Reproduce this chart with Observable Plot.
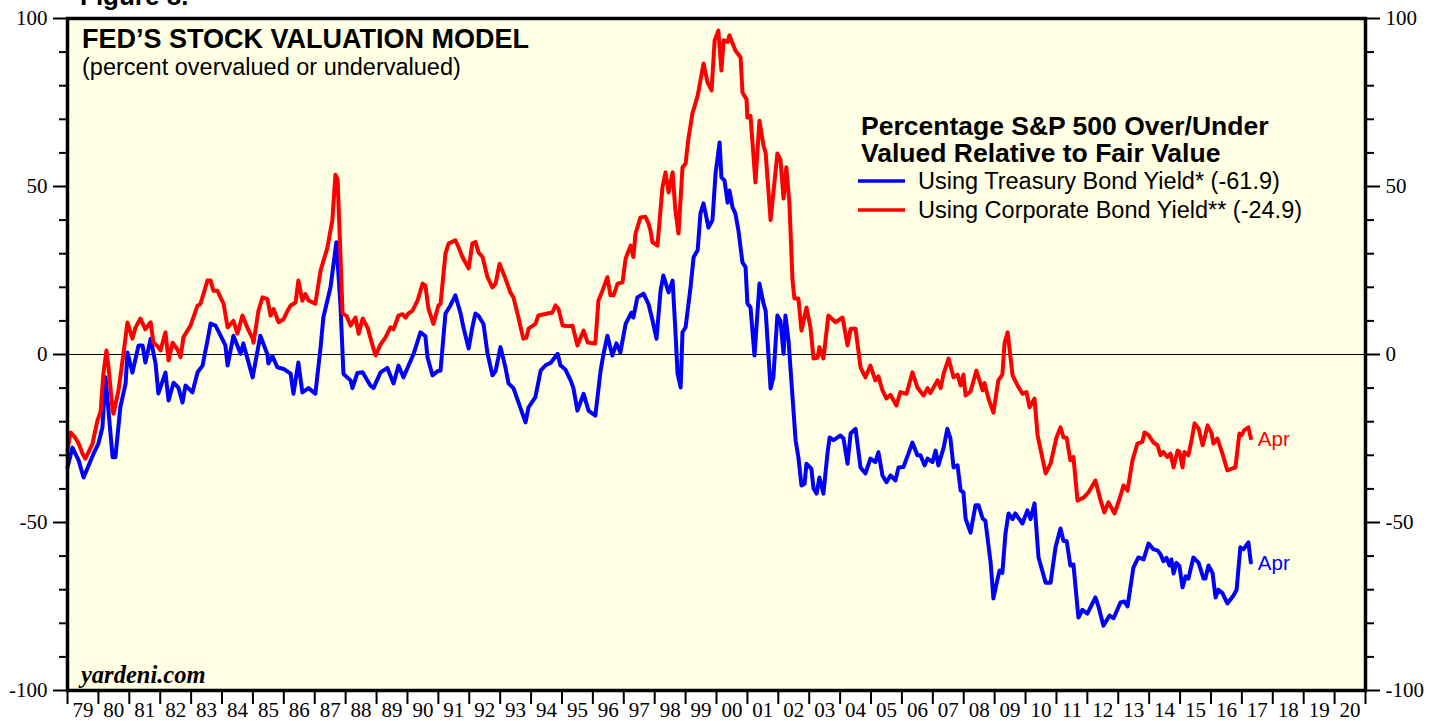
<!DOCTYPE html>
<html>
<head>
<meta charset="utf-8">
<script src="https://cdn.jsdelivr.net/npm/d3@7"></script>
<script src="https://cdn.jsdelivr.net/npm/@observablehq/plot@0.6"></script>
<style>
  html, body { margin: 0; padding: 0; background: #ffffff; }
  #wrap { position: relative; width: 1439px; height: 721px; overflow: hidden; }
  #overlay { position: absolute; left: 0; top: 0; pointer-events: none; }
</style>
</head>
<body>
<div id="wrap"></div>
<script>
// ---------- DATA (decimal year, percent over/under valued) ----------
const treasury = [
[1979.00,-33.6],[1979.16,-27.7],[1979.36,-31.5],[1979.52,-36.6],[1979.84,-29.6],[1980.00,-26.5],[1980.13,-21.7],[1980.23,-6.8],
[1980.46,-30.6],[1980.55,-30.6],[1980.71,-15.7],[1980.88,-8.6],[1980.94,0.6],[1981.10,-5.4],[1981.30,2.7],[1981.43,2.7],
[1981.52,-2.4],[1981.69,4.7],[1981.85,-2.7],[1981.94,-11.6],[1982.17,-5.4],[1982.27,-13.7],[1982.43,-8.4],[1982.59,-9.9],
[1982.72,-14.3],[1982.82,-9.2],[1983.04,-11.3],[1983.21,-5.3],[1983.37,-3.3],[1983.53,4.2],[1983.63,9.2],[1983.79,8.6],
[1983.95,5.7],[1984.11,2.7],[1984.18,-3.3],[1984.37,5.6],[1984.60,0.2],[1984.69,3.3],[1984.99,-6.8],[1985.24,5.6],
[1985.47,0],[1985.50,-2.7],[1985.63,-0.5],[1985.79,-3.8],[1985.99,-4.3],[1986.22,-5.7],[1986.31,-11.7],[1986.47,-2.4],
[1986.60,-11.3],[1986.80,-10],[1987.02,-11.7],[1987.19,2.2],[1987.28,11.1],[1987.51,20],[1987.70,33.4],[1987.83,15],
[1987.93,-5.8],[1988.16,-7.7],[1988.22,-10],[1988.38,-5.5],[1988.55,-5.3],[1988.80,-9.2],[1988.90,-10],[1989.13,-5.3],
[1989.35,-4],[1989.55,-8.6],[1989.71,-3.3],[1989.87,-6.8],[1990.20,0.2],[1990.42,6.6],[1990.58,5.5],[1990.65,-0.9],
[1990.81,-6.2],[1990.97,-5],[1991.07,-4.8],[1991.23,12.2],[1991.39,14.6],[1991.55,17.6],[1991.72,12.2],[1991.81,8.1],
[1991.98,1.8],[1992.10,8.1],[1992.20,12.2],[1992.30,11.5],[1992.46,9.1],[1992.59,0.3],[1992.75,-6.2],[1992.85,-5],
[1993.01,2.2],[1993.17,-3.8],[1993.27,-8.6],[1993.43,-10],[1993.59,-14.2],[1993.82,-20.2],[1993.92,-15.7],[1994.14,-12.7],
[1994.31,-4.8],[1994.47,-3.2],[1994.63,-2.5],[1994.86,0.2],[1994.95,-3.2],[1995.11,-4.5],[1995.28,-7.7],[1995.37,-10],
[1995.50,-16.7],[1995.70,-11.7],[1995.86,-16.7],[1996.08,-18.2],[1996.25,-4.8],[1996.34,0],[1996.47,5.6],[1996.63,-0.3],
[1996.76,3.3],[1996.89,0.6],[1997.06,9.1],[1997.25,12.5],[1997.31,11],[1997.44,17],[1997.64,18.1],[1997.80,15],
[1997.93,10.1],[1998.06,4.7],[1998.19,19],[1998.28,23.5],[1998.45,18.5],[1998.58,22],[1998.67,7.1],[1998.74,-5.7],
[1998.84,-9.8],[1998.90,6.6],[1999.00,8.1],[1999.16,20],[1999.26,29],[1999.39,31],[1999.48,42],[1999.58,45],
[1999.74,37.8],[1999.87,40],[1999.97,53.9],[2000.10,63.1],[2000.16,52.7],[2000.26,51.8],[2000.36,45.2],[2000.42,48.8],
[2000.52,43.8],[2000.61,42],[2000.71,36.9],[2000.84,27.4],[2000.94,26],[2001.00,15.2],[2001.10,14],[2001.23,-0.3],
[2001.39,21.1],[2001.52,15.2],[2001.59,13],[2001.75,-10.1],[2001.84,-6.8],[2001.97,11.6],[2002.07,10],[2002.17,0.2],
[2002.23,11.6],[2002.33,4.2],[2002.46,-12.7],[2002.56,-25.6],[2002.65,-30.6],[2002.75,-39],[2002.85,-38.5],[2002.91,-32.5],
[2003.07,-34],[2003.14,-39.9],[2003.24,-41.4],[2003.33,-36.6],[2003.46,-41.4],[2003.59,-29.5],[2003.66,-24.7],[2003.79,-25.5],
[2004.01,-24.1],[2004.11,-25],[2004.24,-32.5],[2004.34,-23.5],[2004.50,-22.1],[2004.66,-33.6],[2004.82,-35.4],[2004.98,-31],
[2005.14,-32],[2005.24,-29.1],[2005.37,-36],[2005.50,-38],[2005.63,-36],[2005.79,-37.5],[2005.89,-33.6],[2006.05,-33.5],
[2006.21,-29.5],[2006.34,-26.2],[2006.50,-30],[2006.60,-30],[2006.73,-33],[2006.83,-31],[2006.99,-32],[2007.09,-28.6],
[2007.18,-33],[2007.35,-27.7],[2007.47,-22.1],[2007.57,-25],[2007.67,-33.6],[2007.80,-33],[2007.90,-40.5],[2007.99,-41],
[2008.06,-48.8],[2008.22,-53],[2008.38,-44.9],[2008.48,-44.9],[2008.61,-48.8],[2008.70,-49.5],[2008.87,-61.9],[2008.96,-72.6],
[2009.09,-67],[2009.16,-64.3],[2009.25,-65],[2009.35,-53.3],[2009.45,-47.3],[2009.58,-49],[2009.67,-47.3],[2009.90,-50.3],
[2010.06,-46.4],[2010.16,-49],[2010.29,-44.3],[2010.42,-60.4],[2010.65,-67.9],[2010.81,-67.9],[2010.97,-57.4],[2011.13,-51.8],
[2011.23,-55.5],[2011.33,-55.5],[2011.45,-62.8],[2011.55,-62.5],[2011.71,-78.3],[2011.84,-76],[2012.00,-77.1],[2012.26,-72.3],
[2012.36,-75],[2012.52,-80.7],[2012.72,-77.7],[2012.85,-78.5],[2013.07,-73.8],[2013.20,-73.5],[2013.30,-75],[2013.49,-63.4],
[2013.65,-60.4],[2013.82,-61],[2013.98,-56.3],[2014.14,-58],[2014.27,-58.3],[2014.37,-59.5],[2014.46,-61.5],[2014.56,-60.5],
[2014.66,-62.8],[2014.72,-61],[2014.79,-65.2],[2014.88,-62],[2014.98,-63],[2015.08,-69.3],[2015.18,-66],[2015.27,-66.7],
[2015.43,-60.4],[2015.60,-62],[2015.76,-66.7],[2015.82,-66.7],[2015.92,-62.8],[2016.05,-65],[2016.15,-72.3],[2016.24,-70],
[2016.37,-71],[2016.53,-74.1],[2016.73,-71.7],[2016.83,-70],[2016.95,-57.4],[2017.05,-58],[2017.21,-55.9],[2017.29,-61.9]
];

const corporate = [
[1979.00,-28.5],[1979.10,-23.2],[1979.23,-24.5],[1979.36,-26.5],[1979.49,-29.6],[1979.58,-31],[1979.81,-26.5],[1979.97,-19.6],
[1980.07,-17],[1980.16,-5.8],[1980.26,1.2],[1980.33,-4],[1980.46,-16.7],[1980.49,-17.6],[1980.65,-10.7],[1980.81,0.2],
[1980.94,9.5],[1981.10,4.7],[1981.20,8],[1981.36,10.7],[1981.52,7.5],[1981.69,9.6],[1981.78,3.6],[1981.91,2.5],
[1982.01,1.2],[1982.17,6.6],[1982.27,-1.8],[1982.40,3.5],[1982.56,1.5],[1982.66,-0.8],[1982.75,5.1],[1982.98,8.6],
[1983.21,14.6],[1983.30,15],[1983.53,22],[1983.63,22],[1983.72,19],[1983.85,19],[1984.05,15.1],[1984.18,8.1],
[1984.37,10],[1984.50,6.2],[1984.66,11.6],[1984.82,8],[1984.99,4.7],[1985.02,3.5],[1985.18,13.1],[1985.31,17],
[1985.47,16.5],[1985.57,11.6],[1985.67,13.5],[1985.83,9.6],[1985.99,10.5],[1986.12,13],[1986.22,14.6],[1986.38,15.5],
[1986.47,22],[1986.60,16],[1986.70,18],[1986.80,16.1],[1987.02,15.1],[1987.19,25],[1987.41,31.8],[1987.57,40],
[1987.67,53.5],[1987.74,52],[1987.83,30],[1987.90,12.2],[1988.03,11.5],[1988.16,8.6],[1988.32,11],[1988.42,6.2],
[1988.55,10.7],[1988.71,8],[1988.87,2.7],[1988.97,-0.3],[1989.13,3],[1989.29,5.1],[1989.45,8.1],[1989.55,7.5],
[1989.71,11.6],[1989.84,12],[1989.94,11],[1990.03,12.2],[1990.16,13],[1990.33,16.1],[1990.49,21.1],[1990.58,20.5],
[1990.68,13.6],[1990.84,9.1],[1991.00,14.6],[1991.07,15],[1991.23,30],[1991.33,33],[1991.55,34],[1991.65,32],
[1991.78,29],[1991.98,25.6],[1992.10,33],[1992.20,33.5],[1992.30,30.4],[1992.43,29],[1992.59,23],[1992.75,20],
[1992.85,21],[1992.98,27],[1993.17,22.6],[1993.33,18.5],[1993.43,17],[1993.59,11],[1993.75,4.7],[1993.85,5],
[1993.92,7.7],[1994.14,9.1],[1994.24,11.6],[1994.53,12.2],[1994.69,12.5],[1994.79,14.6],[1994.89,13.5],[1995.02,8.6],
[1995.21,8.4],[1995.34,8.6],[1995.50,2.7],[1995.60,5],[1995.70,7.1],[1995.83,3.6],[1996.08,3.3],[1996.18,16.1],
[1996.31,19],[1996.47,23],[1996.57,17.6],[1996.67,17.6],[1996.80,21.1],[1996.96,21.5],[1997.06,28.6],[1997.22,32.4],
[1997.31,29],[1997.38,36],[1997.54,40.8],[1997.70,41],[1997.80,39],[1997.86,37],[1997.93,33.4],[1998.09,32.4],
[1998.25,49.7],[1998.35,54.2],[1998.45,48.2],[1998.58,54.2],[1998.67,42.9],[1998.77,36],[1998.90,55.7],[1999.00,56.8],
[1999.09,64.2],[1999.22,71.7],[1999.39,77],[1999.48,81.5],[1999.58,86.6],[1999.71,81],[1999.84,78.6],[1999.94,93.5],
[2000.06,96.4],[2000.16,84.5],[2000.23,93.5],[2000.36,93],[2000.42,95],[2000.61,90.5],[2000.78,88.4],[2000.84,78],
[2000.97,76],[2001.00,70.5],[2001.10,71],[2001.26,51.2],[2001.39,69.6],[2001.52,62.2],[2001.59,60],[2001.75,40],
[2001.97,59.8],[2002.07,58],[2002.17,46.4],[2002.26,55.7],[2002.36,44.9],[2002.46,22],[2002.52,16.7],[2002.65,16.7],
[2002.75,7.1],[2002.91,14],[2003.04,8.1],[2003.14,-1.2],[2003.27,-1.0],[2003.33,2.2],[2003.46,-1.2],[2003.62,11.6],
[2003.85,9.6],[2004.08,11],[2004.24,2.7],[2004.34,7.7],[2004.50,7.7],[2004.66,-3.8],[2004.82,-6.8],[2004.98,-3.3],
[2005.14,-7.7],[2005.24,-6.5],[2005.37,-10.7],[2005.50,-13.1],[2005.63,-12],[2005.82,-15.2],[2005.95,-11.2],[2006.15,-11.7],
[2006.34,-5.3],[2006.50,-9.8],[2006.70,-12.2],[2006.83,-10],[2006.92,-11.5],[2007.15,-7.7],[2007.25,-10],[2007.35,-5.7],
[2007.51,-1.2],[2007.67,-6.8],[2007.80,-6],[2007.90,-9.2],[2007.99,-6],[2008.06,-12.2],[2008.22,-11],[2008.41,-4.8],
[2008.61,-10.7],[2008.67,-8.5],[2008.80,-13.1],[2008.96,-17.3],[2009.12,-7.7],[2009.25,-6],[2009.32,3.3],[2009.42,6.6],
[2009.58,-6.2],[2009.74,-9.2],[2009.90,-11.7],[2010.03,-11.2],[2010.13,-15.7],[2010.29,-13.1],[2010.39,-24.1],[2010.65,-35.4],
[2010.81,-32.5],[2011.00,-24.7],[2011.13,-21.7],[2011.23,-24.7],[2011.33,-24.8],[2011.45,-31.5],[2011.55,-30.5],[2011.68,-43.5],
[2011.78,-43],[2011.88,-42.6],[2012.04,-41],[2012.26,-37.5],[2012.43,-43.5],[2012.55,-47],[2012.68,-44],[2012.88,-47.3],
[2013.04,-43],[2013.17,-39],[2013.30,-40.5],[2013.46,-31.5],[2013.62,-26.5],[2013.78,-26],[2013.85,-23.2],[2013.98,-24],
[2014.14,-26.2],[2014.27,-27],[2014.37,-30],[2014.46,-29],[2014.59,-30.5],[2014.69,-29.5],[2014.79,-33.6],[2014.92,-28.6],
[2014.98,-29],[2015.08,-33.6],[2015.14,-29],[2015.27,-30],[2015.37,-25.6],[2015.47,-20.5],[2015.60,-22],[2015.73,-27],
[2015.79,-25],[2015.89,-21.1],[2016.02,-23.5],[2016.08,-26.5],[2016.21,-25],[2016.37,-29.5],[2016.53,-34.5],[2016.79,-33.6],
[2016.92,-23.5],[2016.99,-24],[2017.08,-22.5],[2017.21,-21.7],[2017.29,-24.9]
];

const seriesNames = ["Using Treasury Bond Yield* (-61.9)", "Using Corporate Bond Yield** (-24.9)"];
const seriesColors = ["#0000FF", "#FF0000"];
const endLabel = "Apr";
const yearTicks = d3.range(1979, 2022);             // tick marks at year boundaries
const yearLabels = d3.range(1979, 2021);            // labels centred in each year
const yMajor = [-100, -50, 0, 50, 100];
const yMinor = d3.range(-100, 101, 10).filter(d => d % 50 !== 0);

const title = "FED\u2019S STOCK VALUATION MODEL";
const subtitle = "(percent overvalued or undervalued)";
const legendTitle = ["Percentage S&P 500 Over/Under", "Valued Relative to Fair Value"];
const source = "yardeni.com";
const figureLabel = "Figure 8.";

// ---------- BUILD ----------
const toRows = (arr, s) => arr.map(([t, v]) => ({t, v, s}));
const rows = [...toRows(treasury, 0), ...toRows(corporate, 1)];
const lastRows = [toRows(treasury, 0).at(-1), toRows(corporate, 1).at(-1)];

const W = 1439, H = 721;
const serif = "'Liberation Serif', 'Times New Roman', serif";
const sans = "'Liberation Sans', Arial, Helvetica, sans-serif";

const chart = Plot.plot({
  width: W, height: H,
  marginLeft: 67, marginRight: 74, marginTop: 18, marginBottom: 31,
  style: {background: "transparent", fontFamily: serif, fontSize: "21px", color: "#000"},
  x: {type: "linear", domain: [1979, 2021]},
  y: {domain: [-100, 100]},
  marks: [
    Plot.frame({fill: "#FFFFE4", stroke: "none"}),
    Plot.ruleY([0], {stroke: "#000", strokeWidth: 1.2}),
    Plot.line(rows, {x: "t", y: "v", z: "s", stroke: d => seriesColors[d.s], strokeWidth: 4, strokeLinejoin: "round", strokeLinecap: "round"}),
    Plot.text(lastRows, {x: "t", y: "v", text: () => endLabel, fill: d => seriesColors[d.s], textAnchor: "start", dx: 7, dy: 1, fontFamily: sans, fontSize: 20.5}),
    Plot.frame({stroke: "#000", strokeWidth: 3.5}),
    // left axis
    Plot.axisY(yMinor, {anchor: "left", tickSize: 8, tickFormat: () => "", strokeWidth: 2, label: null}),
    Plot.axisY(yMajor, {anchor: "left", tickSize: 14, tickPadding: 6, strokeWidth: 2, label: null, fontSize: 21, fontFamily: serif, tickFormat: d => String(d)}),
    // right axis
    Plot.axisY(yMinor, {anchor: "right", tickSize: 8, tickFormat: () => "", strokeWidth: 2, label: null}),
    Plot.axisY(yMajor, {anchor: "right", tickSize: 14, tickPadding: 6, strokeWidth: 2, label: null, fontSize: 21, fontFamily: serif, tickFormat: d => String(d)}),
    // bottom axis
    Plot.axisX(yearTicks, {anchor: "bottom", tickSize: 14, tickFormat: () => "", strokeWidth: 2, label: null}),
    Plot.axisX(yearLabels.map(y => y + 0.5), {anchor: "bottom", tickSize: 0, tickPadding: 12, label: null,
      tickFormat: d => String(Math.floor(d) % 100).padStart(2, "0"), fontSize: 21, fontFamily: serif})
  ]
});

const wrap = document.getElementById("wrap");
wrap.appendChild(chart);

// ---------- ANNOTATION OVERLAY ----------
const ov = d3.select(wrap).append("svg").attr("id", "overlay").attr("width", W).attr("height", H);
const txt = (s, x, y, opts) => {
  const t = ov.append("text").attr("x", x).attr("y", y).text(s)
    .attr("font-family", opts.family || sans).attr("font-size", opts.size)
    .attr("fill", opts.fill || "#000");
  if (opts.weight) t.attr("font-weight", opts.weight);
  if (opts.style) t.attr("font-style", opts.style);
  return t;
};
txt(figureLabel, 80, 5, {size: 26, weight: "bold"});
txt(title, 82, 48, {size: 27, weight: "bold"});
txt(subtitle, 82, 75, {size: 23.5});
txt(legendTitle[0], 861, 135, {size: 26.5, weight: "bold"});
txt(legendTitle[1], 861, 162, {size: 26.5, weight: "bold"});
seriesNames.forEach((name, i) => {
  const y = 181 + i * 29;
  ov.append("line").attr("x1", 858).attr("x2", 905).attr("y1", y).attr("y2", y)
    .attr("stroke", seriesColors[i]).attr("stroke-width", 3.5);
  txt(name, 918, y + 8, {size: 23.5});
});
txt(source, 81, 683, {size: 24.5, weight: "bold", style: "italic", family: serif});
</script>
</body>
</html>
